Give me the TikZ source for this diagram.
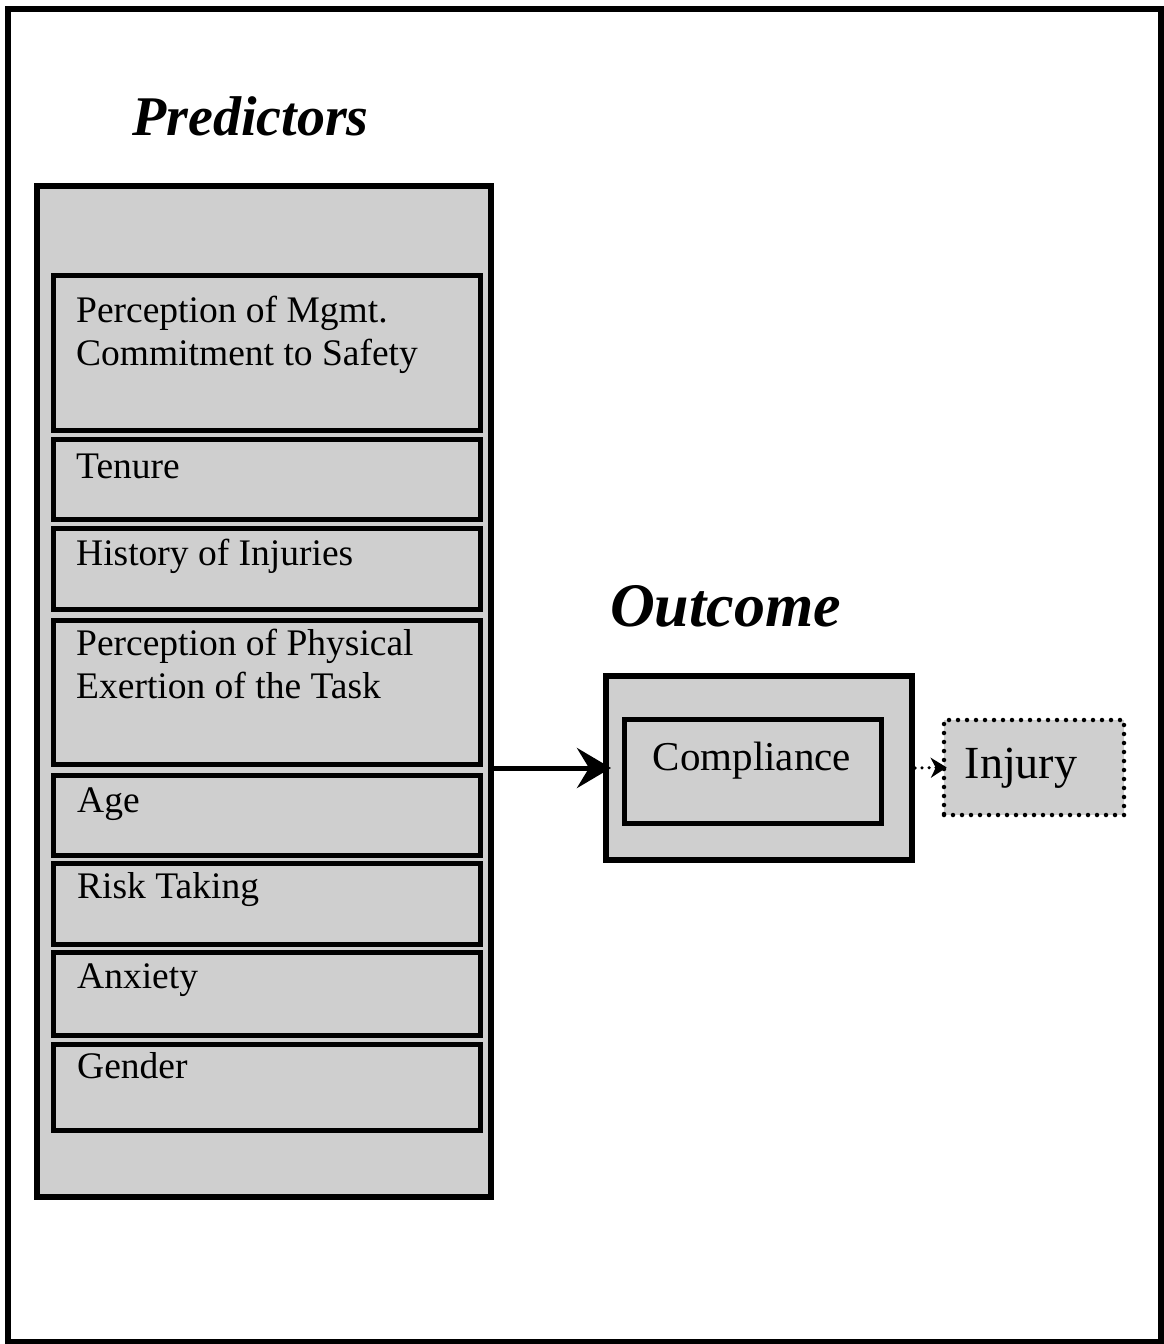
\documentclass[tikz,border=0pt]{standalone}
\usepackage{fontspec}
\setmainfont{Liberation Serif}
\usetikzlibrary{arrows.meta}
\definecolor{stip}{gray}{0.81}
\tikzset{
  boxo/.style={draw, line width=6pt, fill=stip, inner sep=0pt, rectangle},
  boxi/.style={draw, line width=5pt, fill=stip, inner sep=0pt, rectangle, minimum width=427pt},
  lbl/.style={anchor=base west, inner sep=0pt, font=\fontsize{37.5}{43}\selectfont},
  ttl/.style={anchor=base west, inner sep=0pt, font=\bfseries\itshape\fontsize{56}{60}\selectfont},
}
\begin{document}
\begin{tikzpicture}[x=1pt,y=-1pt]
\useasboundingbox (0,0) rectangle (1164,1344);
\node[draw, line width=6pt, minimum width=1153pt, minimum height=1333pt, inner sep=0pt] (frame) at (584.5,675.5) {};

\node[ttl] (ptitle) at (132,135) {Predictors};
\node[boxo, minimum width=454pt, minimum height=1011pt] (pred) at (264,691.5) {};

\node[boxi, minimum height=155pt] (b1) at (266.5,352.5) {};
\node[boxi, minimum height=80pt]  (b2) at (266.5,479) {};
\node[boxi, minimum height=81pt]  (b3) at (266.5,568.5) {};
\node[boxi, minimum height=144pt] (b4) at (266.5,692) {};
\node[boxi, minimum height=80pt]  (b5) at (266.5,815) {};
\node[boxi, minimum height=81pt]  (b6) at (266.5,903.5) {};
\node[boxi, minimum height=83pt]  (b7) at (266.5,993.5) {};
\node[boxi, minimum height=86pt]  (b8) at (266.5,1087) {};

\node[lbl] (t1a) at (76,322) {Perception of Mgmt.};
\node[lbl] (t1b) at (76,365) {Commitment to Safety};
\node[lbl] (t2) at (76,478) {Tenure};
\node[lbl] (t3) at (76,565) {History of Injuries};
\node[lbl] (t4a) at (76,655) {Perception of Physical};
\node[lbl] (t4b) at (76,698) {Exertion of the Task};
\node[lbl] (t5) at (77,812) {Age};
\node[lbl] (t6) at (77,898) {Risk Taking};
\node[lbl] (t7) at (77,988) {Anxiety};
\node[lbl] (t8) at (77,1078) {Gender};

\node[ttl, font=\bfseries\itshape\fontsize{62}{66}\selectfont] (otitle) at (610,626) {Outcome};
\node[boxo, minimum width=306pt, minimum height=184pt] (outcome) at (759,768) {};
\node[draw, line width=5pt, inner sep=0pt, minimum width=257pt, minimum height=104pt, fill=stip] (comp) at (753,771.5) {};
\node[anchor=base, inner sep=0pt, font=\fontsize{41}{45}\selectfont] (comptext) at (752,770) {Compliance};

\node[draw, line width=4.5pt, dash pattern=on 0pt off 9pt, line cap=round, fill=stip, inner sep=0pt, minimum width=180pt, minimum height=95pt] (injury) at (1034,767.5) {};
\node[anchor=base, inner sep=0pt, font=\fontsize{46}{50}\selectfont] (injtext) at (1021,778) {Injury};

\draw[line width=5pt, -{Stealth[length=34pt,width=40pt,inset=12pt]}, shorten >=-8pt] (pred.east |- outcome.west) -- (outcome.west);
\draw[line width=3.5pt, dash pattern=on 0pt off 7pt, line cap=round, -{Stealth[length=16pt,width=20pt,inset=5pt]}, shorten >=-5pt] (outcome.east) -- (injury.west);
\end{tikzpicture}
\end{document}
